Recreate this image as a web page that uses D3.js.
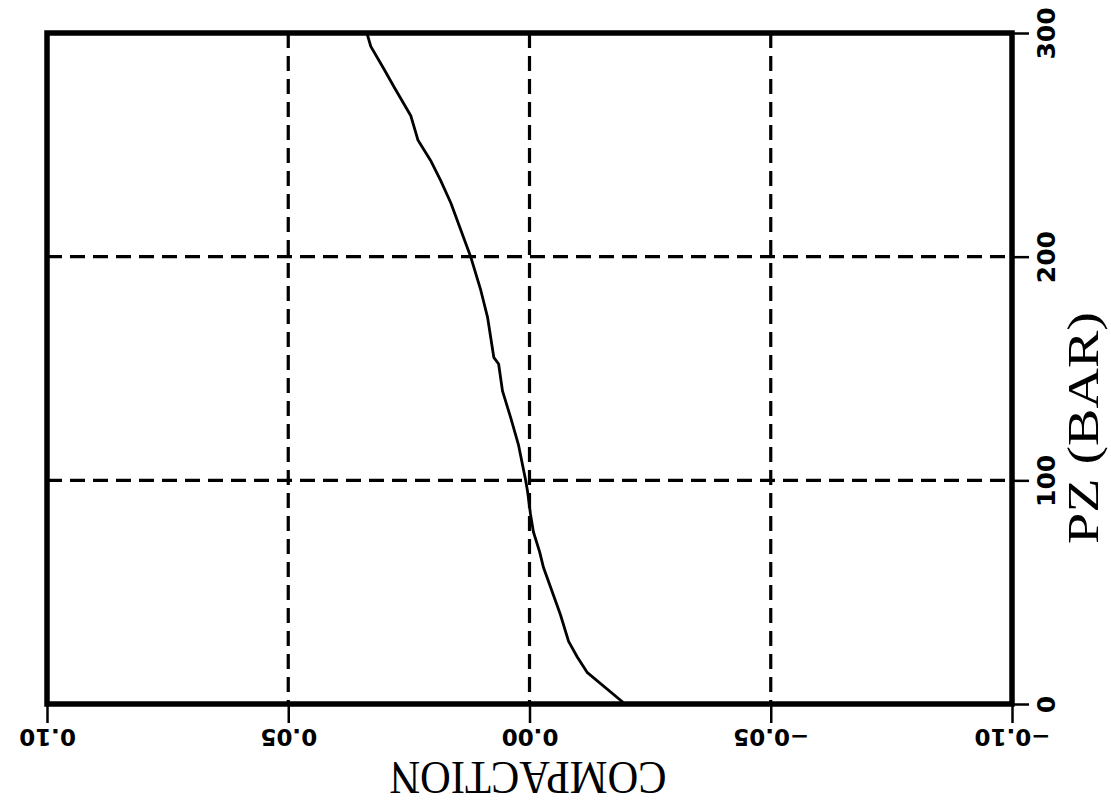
<!DOCTYPE html>
<html>
<head>
<meta charset="utf-8">
<script src="https://cdn.jsdelivr.net/npm/d3@7"></script>
<style>
  body { margin: 0; background: #fff; }
  svg { display: block; }
</style>
</head>
<body>
<svg id="chart" width="1111" height="806"></svg>
<script>
// compaction (x) vs pore pressure PZ in bar (y)
let compaction = [-0.0198, -0.0120, -0.0099, -0.0081, -0.0064, -0.0029, -0.0021, -0.0008, -0.0002, 0.0004, 0.0008,
                  0.0023, 0.0039, 0.0056, 0.0064, 0.0074, 0.0087, 0.0101, 0.0122, 0.0163, 0.0184, 0.0205,
                  0.0231, 0.0246, 0.0281, 0.0302, 0.0329, 0.0337];
let pressure = [0, 14, 21, 28, 40, 61, 68, 77, 85, 95, 100,
                116, 128, 140, 152, 155, 173, 185, 200, 224, 234, 243,
                252, 263, 276, 284, 294, 300];
let xTicks = [0.10, 0.05, 0.00, -0.05, -0.10];
let yTicks = [0, 100, 200, 300];
let xGrid = [0.05, 0.00, -0.05];
let yGrid = [100, 200];

let pLeft = 47, pRight = 1012, pTop = 33, pBottom = 704;

let svg = d3.select('#chart');

let x = d3.scaleLinear().domain([0.10, -0.10]).range([pLeft, pRight]);
let y = d3.scaleLinear().domain([0, 300]).range([pBottom, pTop]);

let data = compaction.map((c, i) => ({c: c, p: pressure[i]}));

// dashed grid
svg.append('g').selectAll('line').data(xGrid).enter().append('line')
    .attr('x1', d => x(d)).attr('x2', d => x(d))
    .attr('y1', pTop).attr('y2', pBottom)
    .attr('stroke', '#000').attr('stroke-width', 3.2)
    .attr('stroke-dasharray', '15,8');
svg.append('g').selectAll('line').data(yGrid).enter().append('line')
    .attr('x1', pLeft).attr('x2', pRight)
    .attr('y1', d => y(d)).attr('y2', d => y(d))
    .attr('stroke', '#000').attr('stroke-width', 3.2)
    .attr('stroke-dasharray', '15,8');

// bottom axis, labels upside down
let xa = svg.append('g')
    .attr('transform', 'translate(0,' + pBottom + ')')
    .call(d3.axisBottom(x).tickValues(xTicks).tickSize(19).tickSizeOuter(0).tickFormat(d3.format('.2f')));
xa.select('.domain').remove();
xa.selectAll('.tick line').attr('stroke-width', 2.5);
xa.selectAll('.tick text')
    .attr('y', 0).attr('dy', null)
    .attr('transform', 'translate(0,33) rotate(180)')
    .attr('dominant-baseline', 'central')
    .attr('text-anchor', 'middle')
    .style('font-family', '"DejaVu Sans", sans-serif')
    .style('font-weight', 'bold')
    .style('font-size', '23px')
    .attr('fill', '#000')
    .text(d => d3.format('.2f')(d).replace('-', '\u2212'));

// right axis, labels rotated
let ya = svg.append('g')
    .attr('transform', 'translate(' + pRight + ',0)')
    .call(d3.axisRight(y).tickValues(yTicks).tickSize(17).tickSizeOuter(0));
ya.select('.domain').remove();
ya.selectAll('.tick line').attr('stroke-width', 2.5);
ya.selectAll('.tick text')
    .attr('x', 0).attr('dy', null)
    .attr('transform', 'translate(34,0) rotate(-90)')
    .attr('dominant-baseline', 'central')
    .attr('text-anchor', 'middle')
    .style('font-family', '"DejaVu Sans", sans-serif')
    .style('font-weight', 'bold')
    .style('font-size', '25px')
    .attr('fill', '#000');

// curve
let line = d3.line().x(d => x(d.c)).y(d => y(d.p));
svg.append('path').datum(data)
    .attr('d', line)
    .attr('fill', 'none')
    .attr('stroke', '#000')
    .attr('stroke-width', 2.8)
    .attr('stroke-linejoin', 'round');

// frame
svg.append('rect')
    .attr('x', pLeft).attr('y', pTop)
    .attr('width', pRight - pLeft).attr('height', pBottom - pTop)
    .attr('fill', 'none').attr('stroke', '#000').attr('stroke-width', 5.5);

// axis titles
svg.append('text')
    .attr('transform', 'translate(528,762) rotate(180)')
    .attr('text-anchor', 'middle')
    .attr('textLength', 277).attr('lengthAdjust', 'spacingAndGlyphs')
    .style('font-family', '"Liberation Serif", serif')
    .style('font-size', '46px')
    .text('COMPACTION');

svg.append('text')
    .attr('transform', 'translate(1098,428) rotate(-90)')
    .attr('text-anchor', 'middle')
    .attr('textLength', 232).attr('lengthAdjust', 'spacingAndGlyphs')
    .style('font-family', '"Liberation Serif", serif')
    .style('font-size', '44px')
    .text('PZ (BAR)');
</script>
</body>
</html>
